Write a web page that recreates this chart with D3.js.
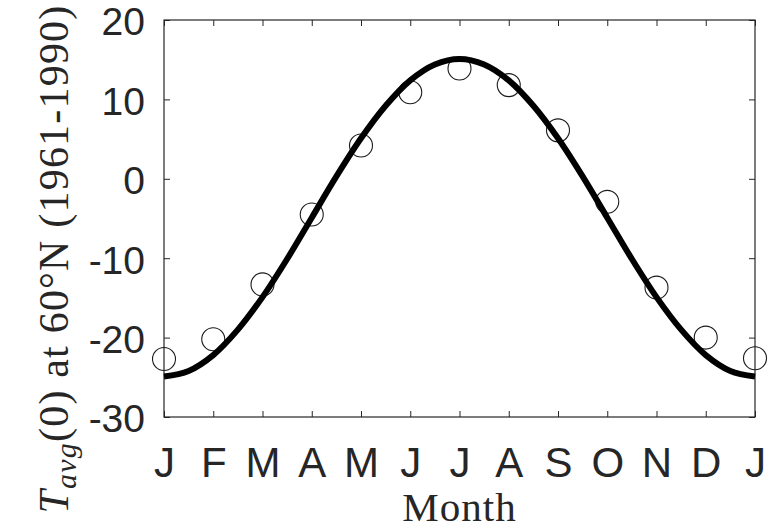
<!DOCTYPE html>
<html>
<head>
<meta charset="utf-8">
<script src="https://cdn.jsdelivr.net/npm/d3@7"></script>
<style>
  html, body { margin: 0; padding: 0; background: #fff; }
  svg { display: block; }
  text { white-space: pre; }
</style>
</head>
<body>
<svg id="chart" width="777" height="529"></svg>
<script>
// Month tick labels (January repeated at the end of the cycle)
const monthLabels = ["J", "F", "M", "A", "M", "J", "J", "A", "S", "O", "N", "D", "J"];
// Month positions, 0 = January ... 12 = next January
const monthIndex = [0, 1, 2, 3, 4, 5, 6, 7, 8, 9, 10, 11, 12];
// Observed monthly mean temperature (°C), 1961-1990
const observedTemp = [-22.7, -20.2, -13.3, -4.5, 4.2, 10.9, 13.9, 11.8, 6.1, -2.9, -13.7, -20.0, -22.6];
// Fitted seasonal curve, sampled every half month
const fitMonth = [0, 0.5, 1, 1.5, 2, 2.5, 3, 3.5, 4, 4.5, 5, 5.5, 6, 6.5, 7, 7.5, 8, 8.5, 9, 9.5, 10, 10.5, 11, 11.5, 12];
const fitTemp = [-24.9, -24.2, -22.2, -19.0, -14.9, -10.1, -4.9, 0.3, 5.1, 9.2, 12.4, 14.4, 15.1, 14.4, 12.4, 9.2, 5.1, 0.3, -4.9, -10.1, -14.9, -19.0, -22.2, -24.2, -24.9];
// Temperature axis ticks
const tempTicks = [-30, -20, -10, 0, 10, 20];

const svg = d3.select("#chart");
const axisColor = "#262626";
const plotLeft = 164, plotRight = 755, plotTop = 20, plotBottom = 417;
const tickLen = 6;

const x = d3.scaleLinear().domain([0, 12]).range([plotLeft, plotRight]);
const y = d3.scaleLinear().domain([-30, 20]).range([plotBottom, plotTop]);

// Bottom axis with month letters
const gx = svg.append("g")
  .attr("transform", `translate(0,${plotBottom})`)
  .call(d3.axisBottom(x).tickValues(monthIndex)
    .tickFormat(i => monthLabels[i])
    .tickSizeInner(-tickLen).tickSizeOuter(0).tickPadding(30));
gx.selectAll("text").attr("font-family", "'Liberation Sans', Arial, sans-serif")
  .attr("font-size", 42).attr("fill", axisColor);

// Left axis with temperature values (plain hyphen for negatives)
const gy = svg.append("g")
  .attr("transform", `translate(${plotLeft},0)`)
  .call(d3.axisLeft(y).tickValues(tempTicks)
    .tickFormat(d => String(d))
    .tickSizeInner(-tickLen).tickSizeOuter(0).tickPadding(19));
gy.selectAll("text").attr("font-family", "'Liberation Sans', Arial, sans-serif")
  .attr("font-size", 39).attr("fill", axisColor).attr("dy", "0.38em");

// Mirrored tick marks on top and right edges
svg.append("g")
  .attr("transform", `translate(0,${plotTop})`)
  .call(d3.axisTop(x).tickValues(monthIndex).tickFormat("")
    .tickSizeInner(-tickLen).tickSizeOuter(0));
svg.append("g")
  .attr("transform", `translate(${plotRight},0)`)
  .call(d3.axisRight(y).tickValues(tempTicks).tickFormat("")
    .tickSizeInner(-tickLen).tickSizeOuter(0));

svg.selectAll(".domain").remove();
svg.selectAll(".tick line").attr("stroke", axisColor).attr("stroke-width", 1);

// Axes box
svg.append("rect")
  .attr("x", plotLeft).attr("y", plotTop)
  .attr("width", plotRight - plotLeft).attr("height", plotBottom - plotTop)
  .attr("fill", "none").attr("stroke", axisColor).attr("stroke-width", 1.2);

// Observed values as open circles
svg.append("g").selectAll("circle")
  .data(observedTemp)
  .join("circle")
  .attr("cx", (d, i) => x(monthIndex[i]))
  .attr("cy", d => y(d))
  .attr("r", 11.5)
  .attr("fill", "none")
  .attr("stroke", "#1a1a1a")
  .attr("stroke-width", 1.1);

// Fitted seasonal cycle
const line = d3.line()
  .x((d, i) => x(fitMonth[i]))
  .y(d => y(d))
  .curve(d3.curveCatmullRom.alpha(0.5));
svg.append("path")
  .attr("d", line(fitTemp))
  .attr("fill", "none")
  .attr("stroke", "#000")
  .attr("stroke-width", 6)
  .attr("stroke-linecap", "butt");

// x-axis title
svg.append("text")
  .attr("x", (plotLeft + plotRight) / 2)
  .attr("y", 521)
  .attr("text-anchor", "middle")
  .attr("font-family", "'Liberation Serif', 'Times New Roman', serif")
  .attr("font-size", 41)
  .attr("letter-spacing", 1)
  .attr("fill", axisColor)
  .text("Month");

// y-axis title: T_avg(0) at 60°N (1961-1990)
const yTitle = svg.append("text")
  .attr("transform", `translate(68,259) rotate(-90)`)
  .attr("text-anchor", "middle")
  .attr("font-family", "'Liberation Serif', 'Times New Roman', serif")
  .attr("font-size", 42)
  .attr("letter-spacing", 1.2)
  .attr("fill", axisColor);
yTitle.append("tspan").attr("font-style", "italic").text("T");
yTitle.append("tspan").attr("font-style", "italic").attr("font-size", 30)
  .attr("dy", 8).text("avg");
yTitle.append("tspan").attr("dy", -8).text("(0) at 60°N (1961-1990)");
</script>
</body>
</html>
